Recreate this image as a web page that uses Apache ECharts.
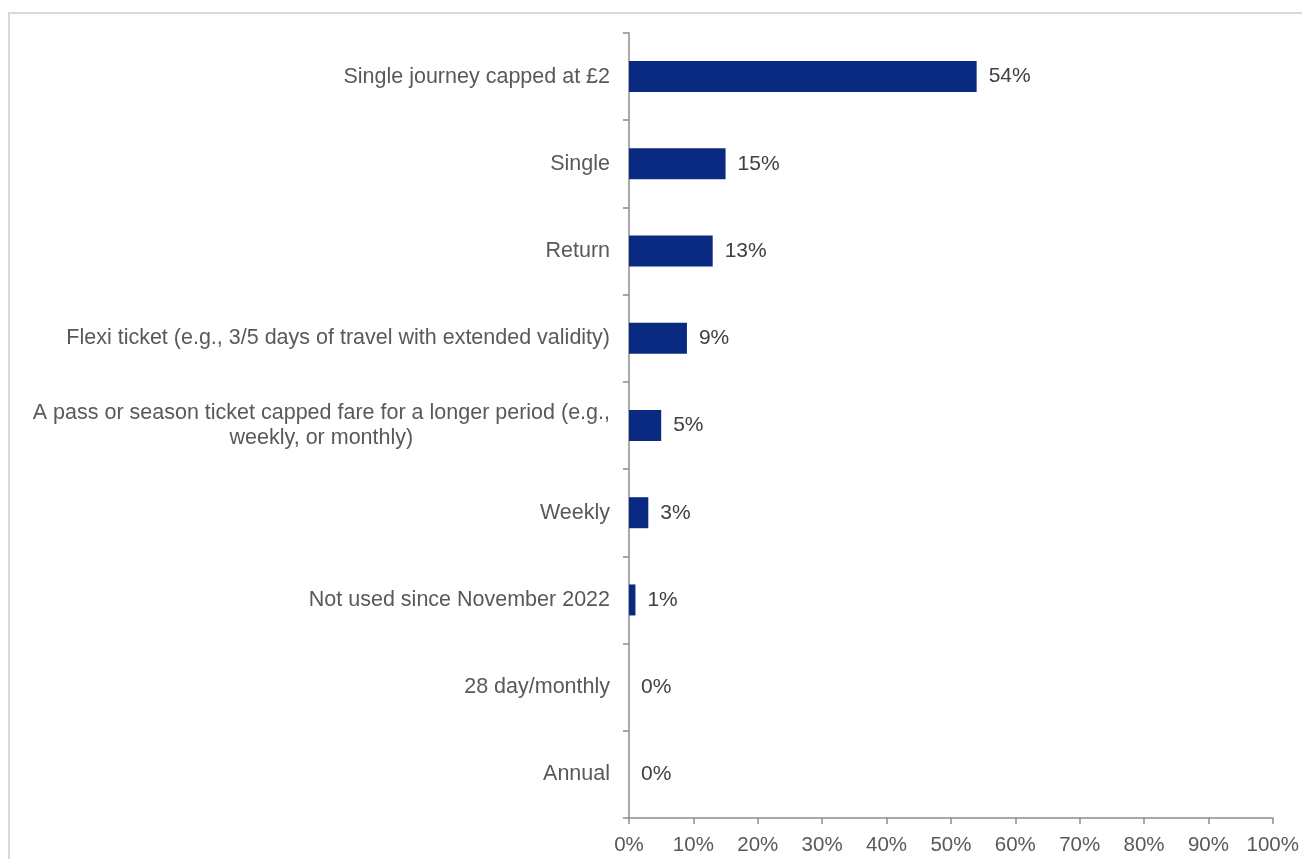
<!DOCTYPE html>
<html>
<head>
<meta charset="utf-8">
<script src="https://cdn.jsdelivr.net/npm/echarts@6/dist/echarts.min.js"></script>
<style>
  html, body { margin: 0; padding: 0; background: #ffffff; }
  #chart { width: 1302px; height: 859px; }
</style>
</head>
<body>
<div id="chart"></div>
<script>
// Ticket types used, share of respondents (%)
const categories = [
  'Single journey capped at £2',
  'Single',
  'Return',
  'Flexi ticket (e.g., 3/5 days of travel with extended validity)',
  'A pass or season ticket capped fare for a longer period (e.g.,\nweekly, or monthly)',
  'Weekly',
  'Not used since November 2022',
  '28 day/monthly',
  'Annual'
];
const shares = [54, 15, 13, 9, 5, 3, 1, 0, 0];
const xTickValues = [0, 10, 20, 30, 40, 50, 60, 70, 80, 90, 100];

const chart = echarts.init(document.getElementById('chart'), null, { renderer: 'canvas' });

const FONT = '"Liberation Sans", Arial, sans-serif';
const AXIS_GREY = '#8c8c8c';

chart.setOption({
  animation: false,
  backgroundColor: '#ffffff',
  graphic: [{
    type: 'rect',
    silent: true,
    shape: { x: 9, y: 13, width: 1400, height: 900 },
    style: { fill: 'none', stroke: '#d9d9d9', lineWidth: 2 }
  }],
  grid: { left: 629, right: 25, top: 33, bottom: 41, containLabel: false },
  xAxis: {
    type: 'value',
    min: 0,
    max: 100,
    interval: 10,
    axisLine: { show: true, lineStyle: { color: AXIS_GREY, width: 1.5 } },
    axisTick: { show: true, length: 6, lineStyle: { color: AXIS_GREY, width: 1.5 } },
    splitLine: { show: false },
    axisLabel: {
      margin: 17,
      color: '#595959',
      fontFamily: FONT,
      fontSize: 20.5,
      formatter: function (v) { return xTickValues.indexOf(v) >= 0 ? v + '%' : ''; }
    }
  },
  yAxis: {
    type: 'category',
    inverse: true,
    data: categories,
    axisLine: { show: true, lineStyle: { color: AXIS_GREY, width: 1.5 } },
    axisTick: { show: true, length: 6, lineStyle: { color: AXIS_GREY, width: 1.5 } },
    axisLabel: {
      margin: 19,
      color: '#595959',
      fontFamily: FONT,
      fontSize: 21.5,
      lineHeight: 25,
      formatter: function (v) {
        return v.split('\n').map(function (s) { return '{c|' + s + '}'; }).join('\n');
      },
      rich: {
        c: { align: 'center', color: '#595959', fontFamily: FONT, fontSize: 21.5, lineHeight: 25 }
      }
    }
  },
  series: [{
    type: 'bar',
    data: shares,
    barWidth: 31,
    itemStyle: { color: '#0a2a82' },
    label: {
      show: true,
      position: 'right',
      distance: 12,
      color: '#404040',
      fontFamily: FONT,
      fontSize: 21,
      formatter: function (p) { return p.value + '%'; }
    }
  }]
});
</script>
</body>
</html>
